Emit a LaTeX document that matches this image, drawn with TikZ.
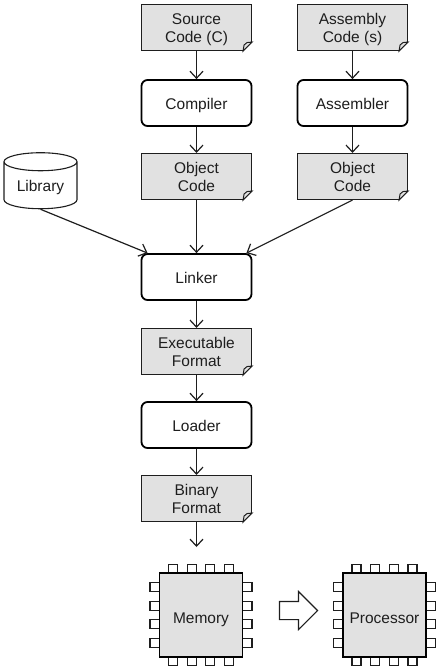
\documentclass[tikz,border=0pt]{standalone}
\usepackage{fontspec}
\setmainfont{Liberation Sans}
\usepackage{tikz}
\usetikzlibrary{calc,arrows.meta,shapes.geometric,shapes.arrows}
\definecolor{DocGray}{RGB}{225,225,225}
\definecolor{InkBlack}{RGB}{30,30,30}
\tikzset{
  lab/.style={font=\fontsize{15.5}{18.5}\selectfont,text=InkBlack,align=center,inner sep=0pt,
    execute at begin node={\rule{0pt}{16pt}},execute at end node={\rule[-4pt]{0pt}{0pt}}},
  doc/.style={lab,draw=InkBlack,fill=DocGray,line width=1.1pt,minimum width=110pt,minimum height=46pt,
    execute at begin node={\rule{0pt}{34pt}}},
  tool/.style={lab,draw=black,fill=white,line width=1.8pt,rounded corners=6pt,minimum width=110pt,minimum height=46pt},
  chip/.style={lab,draw=black,fill=DocGray,line width=1.8pt,minimum width=83pt,minimum height=84pt,
    execute at begin node={\rule{0pt}{20pt}}},
  pin/.style={draw=InkBlack,fill=white,line width=1.1pt},
  flow/.style={draw=InkBlack,line width=1.2pt,-{Straight Barb[length=7pt,width=13pt,line width=1.2pt]}},
}
\newcommand{\docfold}[1]{
  \fill[white] (#1.south east) -- ++(-9,0) -- ++(9,-9) -- cycle;
  \draw[InkBlack,line width=1pt,fill=DocGray] ($(#1.south east)+(-9,0)$) -- ++(9,-9) -- ++(-5,0.5) -- ++(-3,2.5) -- cycle;
}
\newcommand{\chippins}[1]{
  \foreach \d in {-28,-9.3,9.3,28} {
    \draw[pin] ($(#1)+(\d-4.5,-50.5)$) rectangle ($(#1)+(\d+4.5,-42)$);
    \draw[pin] ($(#1)+(\d-4.5,42)$) rectangle ($(#1)+(\d+4.5,50.5)$);
    \draw[pin] ($(#1)+(-51,\d-4.5)$) rectangle ($(#1)+(-41.5,\d+4.5)$);
    \draw[pin] ($(#1)+(41.5,\d-4.5)$) rectangle ($(#1)+(51,\d+4.5)$);
  }
}

\begin{document}
\begin{tikzpicture}[x=1pt,y=-1pt]
\useasboundingbox (0,0) rectangle (440,670);
\node[doc] (source) at (196.5,27.5) {Source\\Code (C)};
\node[doc] (assembly) at (352.5,27.5) {Assembly\\Code (s)};
\node[tool] (compiler) at (196.5,103) {Compiler};
\node[tool] (assembler) at (352.5,103) {Assembler};
\node[doc] (objleft) at (196.5,176.5) {Object\\Code};
\node[doc] (objright) at (352.5,176.5) {Object\\Code};
\node[lab,cylinder,shape border rotate=90,aspect=0.38,draw=InkBlack,fill=white,line width=1.1pt,
  minimum width=73pt,minimum height=56pt] (library) at (40.5,185.5) {Library};
\node[tool] (linker) at (196.5,277) {Linker};
\node[doc] (exec) at (196.5,351.5) {Executable\\Format};
\node[tool] (loader) at (196.5,425) {Loader};
\node[doc] (binary) at (196.5,498.5) {Binary\\Format};
\coordinate (memin) at (196.5,547);
\foreach \n in {source,assembly,objleft,objright,exec,binary} {\docfold{\n}}
% chips
\coordinate (memc) at (201,615);
\coordinate (proc) at (384.5,615);
\chippins{memc}
\chippins{proc}
\node[chip] (memory) at (memc) {Memory};
\node[chip] (processor) at (proc) {Processor};
\node[single arrow,draw=InkBlack,fill=white,line width=1.1pt,inner xsep=0pt,inner ysep=8.5pt,minimum height=38pt,minimum width=37pt,
  single arrow head extend=10pt,single arrow head indent=0pt] (transfer) at (294,610.5) {};
% connectors
\draw[flow] (source)--(compiler);
\draw[flow] (compiler)--(objleft);
\draw[flow] (assembly)--(assembler);
\draw[flow] (assembler)--(objright);
\draw[flow] (objleft)--(linker);
\draw[flow] (linker)--(exec);
\draw[flow] (exec)--(loader);
\draw[flow] (loader)--(binary);
\draw[flow] (binary)--(memin);
\draw[flow] (library.south)--($(linker.north west)+(7,0)$);
\draw[flow] (objright.south)--($(linker.north east)+(-6,0)$);
\end{tikzpicture}
\end{document}
